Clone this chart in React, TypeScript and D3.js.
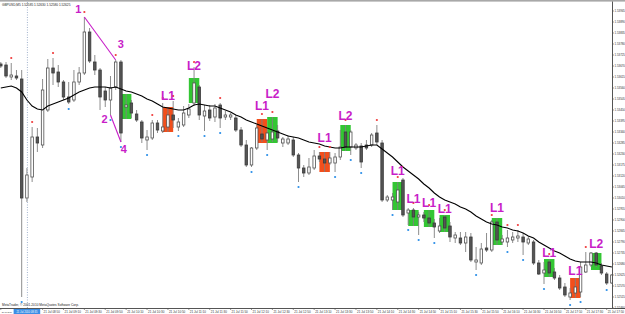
import React from "react";
import * as d3 from "d3";

// ---------- DATA ----------
const symbolHeader = "GBPUSD,M5  1.52585 1.52630 1.52580 1.52625";
const footerText = "MetaTrader, © 2001-2010 MetaQuotes Software Corp.";
const firstIndex = -1;

const opens = [
  1.5368, 1.53675, 1.53615, 1.5362, 1.53605, 1.5301, 1.53115, 1.53315, 1.53275, 1.5345,
  1.5366, 1.5364, 1.5359, 1.53515, 1.535, 1.5359, 1.53635, 1.5384, 1.5369, 1.5365,
  1.53545, 1.535, 1.53565, 1.5369, 1.53465, 1.53485, 1.5343, 1.5339, 1.533, 1.5331,
  1.53385, 1.53345, 1.53365, 1.53425, 1.53365, 1.53375, 1.53425, 1.53485, 1.53565, 1.5342,
  1.5345, 1.53415, 1.53475, 1.53415, 1.53415, 1.5341, 1.5335, 1.53275, 1.53175, 1.5326,
  1.5333, 1.533, 1.53305, 1.53345, 1.53285, 1.53285, 1.533, 1.53225, 1.5316, 1.53135,
  1.5316, 1.5322, 1.53205, 1.53185, 1.53185, 1.53215, 1.5334, 1.53265, 1.5326, 1.5327,
  1.53275, 1.53275, 1.53335, 1.53285, 1.53, 1.53, 1.5299, 1.531, 1.52935, 1.5295,
  1.52915, 1.52925, 1.5291, 1.52885, 1.52845, 1.52915, 1.5287, 1.5281, 1.5281, 1.52785,
  1.52815, 1.5269, 1.52685, 1.5276, 1.5275, 1.5289, 1.5279, 1.5279, 1.528, 1.5281,
  1.52815, 1.52785, 1.5279, 1.52685, 1.52635, 1.5269, 1.5264, 1.5261, 1.52565, 1.52515,
  1.52535, 1.5254, 1.5264, 1.52675, 1.52735, 1.5267, 1.5263, 1.52585,
];
const highs = [
  1.5369, 1.5369, 1.53685, 1.5365, 1.5365, 1.5316, 1.53365, 1.5336, 1.53605, 1.53705,
  1.5371, 1.53675, 1.536, 1.5359, 1.5365, 1.53665, 1.53915, 1.5386, 1.53725, 1.5366,
  1.53565, 1.5362, 1.537, 1.537, 1.5353, 1.535, 1.5345, 1.534, 1.5335, 1.534,
  1.534, 1.53485, 1.53465, 1.53495, 1.5341, 1.5347, 1.5348, 1.53665, 1.53575, 1.53475,
  1.53475, 1.5348, 1.53485, 1.53445, 1.53435, 1.53425, 1.53365, 1.533, 1.53265, 1.53375,
  1.53405, 1.5336, 1.53415, 1.53375, 1.53315, 1.53325, 1.53315, 1.53235, 1.53175, 1.5321,
  1.5325, 1.5324, 1.5324, 1.5324, 1.53235, 1.5335, 1.53375, 1.5335, 1.53285, 1.53285,
  1.533, 1.53335, 1.53375, 1.533, 1.53025, 1.53035, 1.5309, 1.5311, 1.5296, 1.5296,
  1.5294, 1.5294, 1.5295, 1.52905, 1.5291, 1.52925, 1.5289, 1.5284, 1.5284, 1.5284,
  1.52835, 1.52765, 1.52785, 1.52835, 1.529, 1.5291, 1.52825, 1.5285, 1.5284, 1.5285,
  1.52835, 1.5282, 1.528, 1.527, 1.5269, 1.52705, 1.5266, 1.52625, 1.52585, 1.5256,
  1.5261, 1.5269, 1.5274, 1.5274, 1.5274, 1.52685, 1.5264, 1.5263,
];
const lows = [
  1.5366, 1.5361, 1.536, 1.536, 1.52515, 1.5299, 1.5309, 1.5324, 1.5326, 1.5344,
  1.53575, 1.53565, 1.535, 1.5348, 1.5349, 1.53575, 1.53625, 1.53685, 1.53625, 1.5345,
  1.53465, 1.53425, 1.5355, 1.5329, 1.53405, 1.5341, 1.5339, 1.53285, 1.5325, 1.533,
  1.53335, 1.53335, 1.5334, 1.5336, 1.53345, 1.53365, 1.5341, 1.5347, 1.534, 1.53345,
  1.53395, 1.5339, 1.5336, 1.534, 1.534, 1.5334, 1.53265, 1.53165, 1.53165, 1.5325,
  1.5329, 1.5325, 1.5329, 1.5329, 1.53265, 1.53275, 1.53215, 1.5309, 1.53115, 1.53125,
  1.5315, 1.5319, 1.5314, 1.53175, 1.5314, 1.532, 1.53245, 1.53225, 1.5325, 1.5316,
  1.5325, 1.53265, 1.53275, 1.5299, 1.5299, 1.5295, 1.5295, 1.52915, 1.52875, 1.5287,
  1.52825, 1.5289, 1.52865, 1.5281, 1.52835, 1.5284, 1.5279, 1.52785, 1.52775, 1.5274,
  1.5269, 1.5265, 1.52675, 1.5274, 1.5274, 1.52775, 1.52775, 1.52765, 1.52785, 1.5279,
  1.52725, 1.52775, 1.52675, 1.52625, 1.5258, 1.52615, 1.526, 1.5255, 1.52515, 1.525,
  1.5251, 1.52515, 1.52635, 1.52665, 1.52665, 1.52625, 1.52575, 1.5258,
];
const closes = [
  1.5367, 1.5362, 1.53625, 1.5361, 1.5301, 1.53125, 1.53315, 1.53285, 1.5355, 1.5366,
  1.53635, 1.5359, 1.53515, 1.5349, 1.5359, 1.53635, 1.5384, 1.53695, 1.5365, 1.53515,
  1.535, 1.5356, 1.5369, 1.53335, 1.53475, 1.53435, 1.534, 1.5331, 1.53315, 1.53385,
  1.5335, 1.53365, 1.53425, 1.534, 1.5339, 1.53435, 1.53455, 1.53585, 1.53425, 1.53445,
  1.5341, 1.5346, 1.5341, 1.53425, 1.53425, 1.5335, 1.53275, 1.53175, 1.5326, 1.5336,
  1.53305, 1.53335, 1.5334, 1.5331, 1.53305, 1.53305, 1.53225, 1.5316, 1.53135, 1.53165,
  1.5322, 1.53205, 1.53185, 1.5321, 1.53215, 1.53265, 1.53265, 1.5334, 1.53275, 1.5319,
  1.5326, 1.53325, 1.5329, 1.53, 1.53015, 1.53015, 1.5305, 1.52925, 1.5295, 1.52915,
  1.52925, 1.5291, 1.52885, 1.52865, 1.5287, 1.5286, 1.52815, 1.52825, 1.52785, 1.52815,
  1.527, 1.527, 1.52755, 1.5275, 1.5289, 1.528, 1.52805, 1.5281, 1.52815, 1.5282,
  1.5279, 1.52805, 1.52685, 1.5263, 1.5265, 1.52635, 1.5261, 1.5256, 1.52525, 1.52535,
  1.52565, 1.52665, 1.52675, 1.52735, 1.52675, 1.52635, 1.52585, 1.52625,
];
const maValues = [
  1.5356, 1.53565, 1.5357, 1.5356, 1.5354, 1.535, 1.5347, 1.53455, 1.5345, 1.5347,
  1.5348, 1.5349, 1.535, 1.5351, 1.53525, 1.5354, 1.5355, 1.5356, 1.53565, 1.53565,
  1.53565, 1.5356, 1.53565, 1.53555, 1.53545, 1.5354, 1.5353, 1.5352, 1.53505, 1.53495,
  1.5348, 1.53465, 1.5346, 1.53455, 1.5345, 1.5345, 1.5346, 1.53475, 1.5348, 1.53475,
  1.5347, 1.5347, 1.5346, 1.5345, 1.5344, 1.53425, 1.53415, 1.534, 1.5339, 1.5338,
  1.5337, 1.5336, 1.5335, 1.5334, 1.5333, 1.5332, 1.53315, 1.5331, 1.533, 1.5329,
  1.53285, 1.5328, 1.5327, 1.53265, 1.5326, 1.5326, 1.53265, 1.53265, 1.53265, 1.53265,
  1.5327, 1.53275, 1.53275, 1.53255, 1.53235, 1.53215, 1.5319, 1.53165, 1.53145, 1.53125,
  1.53105, 1.5308, 1.5306, 1.53035, 1.53015, 1.53, 1.5299, 1.5298, 1.52965, 1.52955,
  1.5294, 1.5292, 1.52905, 1.5289, 1.5288, 1.52875, 1.52865, 1.5286, 1.5285, 1.52845,
  1.52835, 1.5282, 1.5281, 1.5279, 1.52775, 1.5276, 1.52745, 1.52735, 1.5272, 1.52705,
  1.52695, 1.5269, 1.5269, 1.5269, 1.52685, 1.52675, 1.5267, 1.52665,
];

const fractalUp = [1, 5, 9, 15, 21, 28, 30, 32, 36, 41, 49, 51, 60, 62, 65, 71, 75, 78, 81, 84, 93, 96, 98, 104, 111];
const fractalDown = [3, 12, 20, 22, 27, 33, 38, 41, 47, 50, 56, 63, 66, 68, 74, 77, 79, 82, 90, 96, 99, 103, 108, 110, 115];

const boxIndex = [23, 31, 36, 49, 51, 61, 65, 75, 78, 81, 84, 94, 104, 109, 113];
const boxTop = [1.5353, 1.53465, 1.5361, 1.53405, 1.53415, 1.5324, 1.53375, 1.5309, 1.5295, 1.5295, 1.52925, 1.5291, 1.52705, 1.5261, 1.52735];
const boxBottom = [1.53405, 1.5334, 1.53485, 1.53285, 1.53285, 1.5314, 1.53245, 1.5295, 1.5287, 1.52865, 1.5284, 1.52775, 1.52615, 1.5251, 1.5265];
const boxKind = ["buy", "sell", "buy", "sell", "buy", "sell", "buy", "buy", "buy", "buy", "buy", "buy", "buy", "sell", "buy"];
const boxLabel = ["", "L1", "L2", "L1", "L2", "L1", "L2", "L1", "L1", "L1", "L1", "L1", "L1", "L1", "L2"];
const boxLabelPrice = [0, 1.535, 1.5365, 1.5345, 1.5351, 1.5329, 1.534, 1.53125, 1.52985, 1.52965, 1.52935, 1.5294, 1.52715, 1.52625, 1.5276];

const zzIndex = [15, 20, 21, 22];
const zzPrice = [1.53915, 1.53425, 1.537, 1.5329];
const zzLabel = ["1", "2", "3", "4"];
const zzSegments = [[0, 2], [1, 3]];

const priceTicks = [
  1.53945, 1.5389, 1.53835, 1.5378, 1.53725, 1.5367, 1.53615, 1.5356, 1.53505, 1.5345,
  1.53395, 1.5334, 1.53285, 1.5323, 1.53175, 1.5312, 1.53065, 1.5301, 1.52955, 1.529,
  1.52845, 1.5279, 1.52735, 1.5268, 1.52625, 1.5257, 1.52515, 1.5246,
];
const timeTickIndex = [-1, 3, 7, 11, 15, 19, 23, 27, 31, 35, 39, 43, 47, 51, 55, 59, 63, 67, 71, 75, 79, 83, 87, 91, 95, 99, 103, 107, 111, 115];
const timeTickLabels = [
  "21 Jul 2010", "21 Jul 08:30", "21 Jul 08:50", "21 Jul 09:10", "21 Jul 09:30", "21 Jul 09:50",
  "21 Jul 10:10", "21 Jul 10:30", "21 Jul 10:50", "21 Jul 11:10", "21 Jul 11:30", "21 Jul 11:50",
  "21 Jul 12:10", "21 Jul 12:30", "21 Jul 12:50", "21 Jul 13:10", "21 Jul 13:30", "21 Jul 13:50",
  "21 Jul 14:10", "21 Jul 14:30", "21 Jul 14:50", "21 Jul 15:10", "21 Jul 15:30", "21 Jul 15:50",
  "21 Jul 16:10", "21 Jul 16:30", "21 Jul 16:50", "21 Jul 17:10", "21 Jul 17:30", "21 Jul 17:50",
];
const crosshairIndex = 4;
const crosshairLabel = "21 Jul 2010 08:35";

// ---------- STYLE ----------
const W = 625, H = 314;
const PR = 612, PB = 308;
const MAG = "#c81ec8";
const GREEN = "#33c633";
const ORANGE = "#f24f1c";

export default function App() {
  const n = opens.length;
  const x = d3.scaleLinear().domain([firstIndex, firstIndex + n - 1]).range([0.8, 611.9]);
  const y = d3.scaleLinear().domain([1.54, 1.5246]).range([0, PB]);
  const idx = d3.range(n).map((i) => i + firstIndex);
  const at = (k: number) => k - firstIndex;

  const maLine = d3
    .line<number>()
    .x((_, i) => x(idx[i]))
    .y((v) => y(v))(maValues) as string;

  const chX = x(crosshairIndex);
  const chLeft = chX - 13.3;
  const chW = 26.6;

  return (
    <svg
      width={W}
      height={H}
      style={{ position: "fixed", left: 0, top: 0, background: "#fff" }}
      fontFamily="'Liberation Sans', Arial, sans-serif"
    >
      <defs>
        <clipPath id="plot">
          <rect x={0} y={2} width={PR} height={PB - 2} />
        </clipPath>
      </defs>
      <rect x={0} y={0} width={W} height={H} fill="#fff" />
      {/* frame */}
      <rect x={0} y={0} width={W} height={1.6} fill="#a8a8a8" />
      <line x1={0} x2={W} y1={PB + 0.5} y2={PB + 0.5} stroke="#555" strokeWidth={1} />
      <line x1={PR + 0.5} x2={PR + 0.5} y1={1.5} y2={PB} stroke="#555" strokeWidth={1} />

      <g clipPath="url(#plot)">
        {/* boxes */}
        {boxIndex.map((k, i) => {
          const x0 = x(k - 1);
          const x1 = x(k + 1);
          const t = y(boxTop[i]);
          const b = y(boxBottom[i]);
          return (
            <rect key={"b" + i} x={x0} y={t} width={x1 - x0} height={b - t}
              fill={boxKind[i] === "buy" ? GREEN : ORANGE} />
          );
        })}
        {/* crosshair vertical */}
        <line x1={chX + 0.5} x2={chX + 0.5} y1={2} y2={PB}
          stroke="#8aa0c0" strokeWidth={0.8} strokeDasharray="1 1.5" />
        {/* candles */}
        {idx.map((k, i) => {
          const cx = x(k);
          const o = opens[i], c = closes[i];
          const bull = c >= o;
          const top = y(Math.max(o, c));
          const bot = y(Math.min(o, c));
          return (
            <g key={"c" + k}>
              <line x1={cx} x2={cx} y1={y(highs[i])} y2={y(lows[i])} stroke="#808080" strokeWidth={0.9} />
              <rect x={cx - 1.25} y={top} width={2.5} height={Math.max(bot - top, 0.6)}
                fill={bull ? "#ffffff" : "#555555"} stroke={bull ? "#505050" : "#3a3a3a"} strokeWidth={0.8} />
            </g>
          );
        })}
        {/* moving average */}
        <path d={maLine} fill="none" stroke="#000" strokeWidth={1.1} />
        {/* zigzag */}
        {zzSegments.map(([a, b], i) => (
          <line key={"z" + i} x1={x(zzIndex[a])} y1={y(zzPrice[a])} x2={x(zzIndex[b])} y2={y(zzPrice[b])}
            stroke={MAG} strokeWidth={1.1} />
        ))}
        {/* fractals */}
        {fractalUp.map((k) => (
          <circle key={"fu" + k} cx={x(k)} cy={y(highs[at(k)]) - 5} r={1.1} fill="#f03c3c" />
        ))}
        {fractalDown.map((k) => (
          <circle key={"fd" + k} cx={x(k)} cy={y(lows[at(k)]) + 5} r={1.1} fill="#2a8ee8" />
        ))}
        {/* labels */}
        {boxIndex.map((k, i) =>
          boxLabel[i] ? (
            <text key={"l" + i} x={x(k)} y={y(boxLabelPrice[i])} textAnchor="middle"
              fontSize={12} fontWeight="bold" fill={MAG}>{boxLabel[i]}</text>
          ) : null
        )}
        {zzIndex.map((k, i) => {
          const dx = [-6, -6, 5, 3][i];
          const dy = [-4, 8, -12, 11][i];
          return (
            <text key={"zl" + i} x={x(k) + dx} y={y(zzPrice[i]) + dy} textAnchor="middle"
              fontSize={11} fontWeight="bold" fill={MAG}>{zzLabel[i]}</text>
          );
        })}
      </g>

      {/* header and footer */}
      <text x={2} y={5.5} fontSize={3.2} fill="#222">{symbolHeader}</text>
      <text x={2} y={306} fontSize={3.2} fill="#222">{footerText}</text>

      {/* price axis */}
      {priceTicks.map((p) => (
        <g key={"p" + p}>
          <line x1={PR} x2={PR + 2} y1={y(p)} y2={y(p)} stroke="#555" strokeWidth={0.6} />
          <text x={PR + 2.5} y={y(p) + 1} fontSize={2.9} fill="#333">{p.toFixed(5)}</text>
        </g>
      ))}

      {/* time axis */}
      {timeTickIndex.map((k, i) => {
        const tx = x(k) + 1;
        const covered = tx > chLeft - 1 && tx < chLeft + chW;
        const first = i === 0;
        return (
          <g key={"t" + k}>
            <line x1={x(k)} x2={x(k)} y1={PB} y2={PB + 2} stroke="#555" strokeWidth={0.6} />
            {!covered && (
              <text x={tx} y={PB + 4.5} fontSize={first ? 2.2 : 3} fill="#333"
                {...(first ? { textLength: 10, lengthAdjust: "spacingAndGlyphs" } : {})}>
                {timeTickLabels[i]}
              </text>
            )}
          </g>
        );
      })}
      <rect x={chLeft} y={PB + 1} width={chW} height={5} fill="#3a8ee6" />
      <text x={chX} y={PB + 4.6} fontSize={2.7} fill="#fff" textAnchor="middle"
        textLength={21} lengthAdjust="spacingAndGlyphs">{crosshairLabel}</text>
    </svg>
  );
}
